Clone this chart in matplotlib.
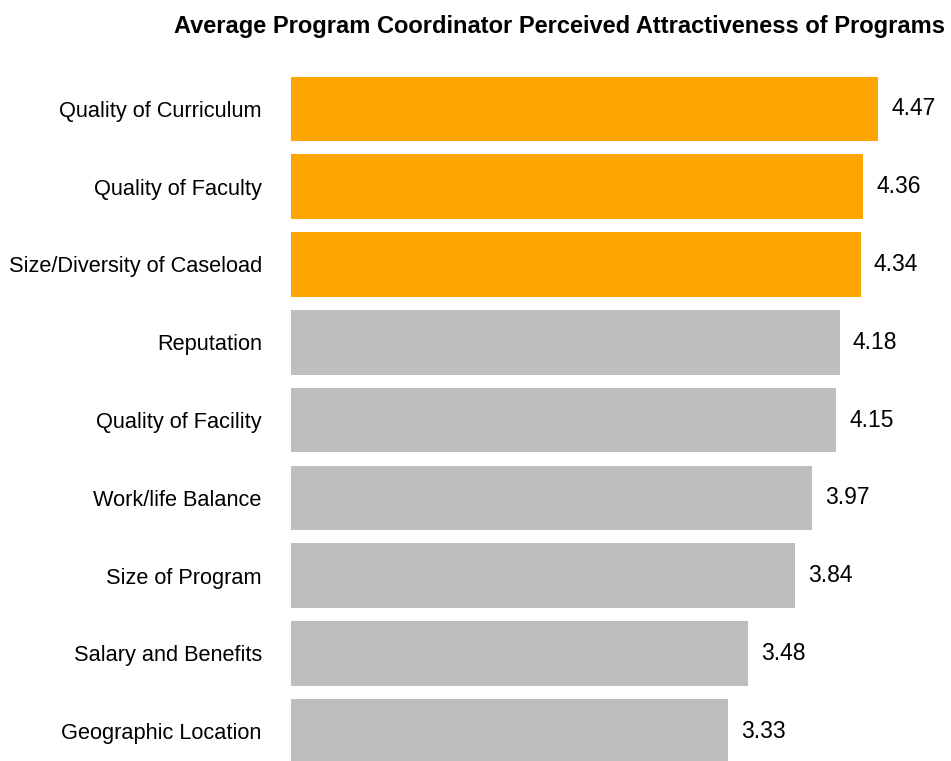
import numpy as np
import matplotlib.pyplot as plt

categories = ["Quality of Curriculum", "Quality of Faculty", "Size/Diversity of Caseload",
              "Reputation", "Quality of Facility", "Work/life Balance",
              "Size of Program", "Salary and Benefits", "Geographic Location"]
values = [4.47, 4.36, 4.34, 4.18, 4.15, 3.97, 3.84, 3.48, 3.33]
highlight = [True, True, True, False, False, False, False, False, False]

fig = plt.figure(figsize=(9.51, 7.61), dpi=100)
ax = fig.add_axes([291 / 951, -9 / 761, 654 / 951, 700 / 761])

y = np.arange(len(categories))
colors = ["#FFA500" if h else "#BEBEBE" for h in highlight]
ax.barh(y, values, height=0.83, color=colors)

for yi, v in zip(y, values):
    ax.text(v + 0.1, yi, f"{v:.2f}", va="center", ha="left", fontsize=16.5,
            family="Liberation Sans")

ax.set_xlim(0, 654 / 131.3)
ax.set_ylim(len(categories) - 0.5, -0.5)
ax.set_yticks(y)
ax.set_yticklabels(categories, fontsize=15.7, family="Liberation Sans")
ax.tick_params(axis="y", length=0, pad=21)
ax.set_xticks([])
for s in ax.spines.values():
    s.set_visible(False)

fig.text(560 / 951, 1 - 27 / 761, "Average Program Coordinator Perceived Attractiveness of Programs",
         ha="center", va="center", fontsize=17, fontweight="bold", family="Liberation Sans")

fig.savefig("out.png", dpi=100)
